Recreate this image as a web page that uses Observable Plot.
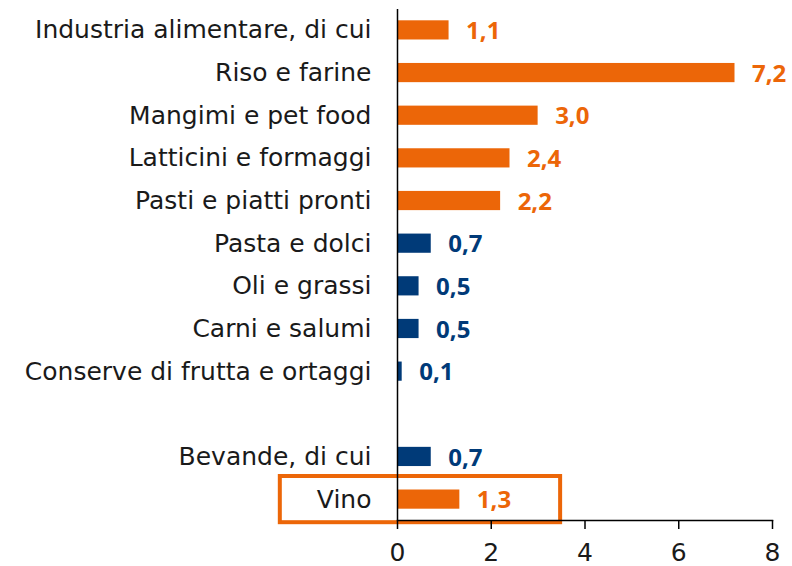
<!DOCTYPE html>
<html><head><meta charset="utf-8">
<script src="https://cdn.jsdelivr.net/npm/d3@7"></script>
<script src="https://cdn.jsdelivr.net/npm/@observablehq/plot@0.6"></script>
<style>
body{margin:0;background:#fff;}
#chart svg{display:block;}
</style>
</head><body><div id="chart"></div>
<script>
const categories = ["Industria alimentare, di cui","Riso e farine","Mangimi e pet food","Latticini e formaggi","Pasti e piatti pronti","Pasta e dolci","Oli e grassi","Carni e salumi","Conserve di frutta e ortaggi"," ","Bevande, di cui","Vino"];
const values = [1.1, 7.2, 3.0, 2.4, 2.2, 0.72, 0.46, 0.46, 0.1, null, 0.72, 1.33];
const groups = ["up","up","up","up","up","down","down","down","down",null,"down","up"];
const xTicks = [0,2,4,6,8];
const highlightCategory = "Vino";
const highlightFrom = -2.5;
const highlightTo = 3.48;

const ORANGE = "#EC6608";
const BLUE = "#003A78";
const FONT = "'DejaVu Sans', sans-serif";

const data = categories.map((c,i)=>({cat:c, v:values[i], g:groups[i]})).filter(d=>d.v!=null);
const fmt = v => d3.format(".1f")(v).replace(".", ",");

const chart = Plot.plot({
  width: 792, height: 566,
  marginLeft: 397, marginRight: 20, marginTop: 9, marginBottom: 46,
  style: {fontFamily: FONT, fontSize: "25px", color: "#1a1a1a", background: "#fff"},
  x: {domain: [0,8], ticks: xTicks},
  y: {domain: categories, paddingInner: 0.55, paddingOuter: 0.265, align: 0.5, round: false},
  color: {domain: ["up","down"], range: [ORANGE, BLUE]},
  marks: [
    Plot.barX(data, {x: "v", y: "cat", fill: "g"}),
    Plot.text(data, {x: "v", y: "cat", text: d=>fmt(d.v), fill: "g", textAnchor: "start", dx: 17, dy: 1, fontWeight: "bold", fontSize: 24, fontFamily: "'Open Sans', sans-serif"}),
    Plot.barX([highlightCategory], {x1: highlightFrom, x2: highlightTo, y: d=>d, fill: "none", stroke: ORANGE, strokeWidth: 4, insetTop: -13.5, insetBottom: -13.5, clip: false}),
    Plot.ruleX([0], {stroke: "#000", strokeWidth: 1.5}),
    Plot.frame({anchor: "bottom", stroke: "#000", strokeWidth: 1.5}),
    Plot.axisY({tickSize: 0, tickPadding: 26, label: null, fontSize: 25}),
    Plot.axisX({ticks: xTicks, tickSize: 9, tickPadding: 14, label: null, fontSize: 25, strokeWidth: 1.5, stroke: "#000", tickFormat: d=>d})
  ]
});
document.getElementById("chart").appendChild(chart);
</script></body></html>
